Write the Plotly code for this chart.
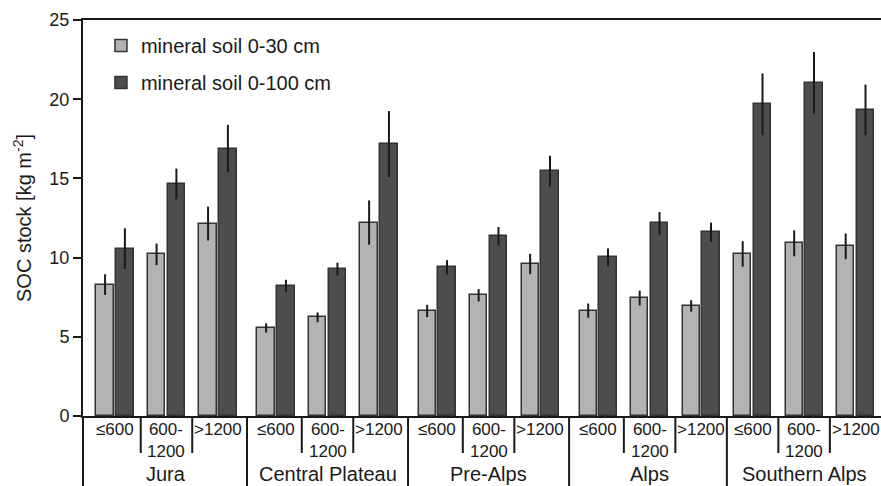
import plotly.graph_objects as go

# ---------------- data ----------------
regions = ["Jura", "Central Plateau", "Pre-Alps", "Alps", "Southern Alps"]
elevations = ["≤600", "600-<br>1200", ">1200"]
series_names = ["mineral soil 0-30 cm", "mineral soil 0-100 cm"]

soc_0_30 = [8.30, 10.21, 12.15, 5.56, 6.23, 12.21, 6.63, 7.62, 9.60, 6.65, 7.45, 6.95, 10.23, 10.90, 10.71]
err_0_30 = [0.65, 0.68, 1.07, 0.29, 0.31, 1.40, 0.39, 0.39, 0.64, 0.45, 0.47, 0.36, 0.81, 0.82, 0.81]
soc_0_100 = [10.57, 14.65, 16.88, 8.21, 9.28, 17.17, 9.39, 11.35, 15.45, 10.02, 12.17, 11.60, 19.68, 21.02, 19.32]
err_0_100 = [1.28, 0.97, 1.50, 0.39, 0.40, 2.08, 0.45, 0.58, 0.98, 0.56, 0.71, 0.61, 1.95, 1.96, 1.60]
y_ticks = [0, 5, 10, 15, 20, 25]

# ---------------- layout helpers ----------------
FONT = "Liberation Sans, Arial, sans-serif"
TXT = "#1a1a1a"
LINE = "#1a1a1a"
region_gap = [0.0, 0.127, 0.127, 0.127, 0.0]  # extra spacing before each region

n_el = len(elevations)
offsets = []
acc = 0.0
for r in range(len(regions)):
    acc += region_gap[r]
    offsets.append(acc)
x_pos = [r * n_el + e + offsets[r] for r in range(len(regions)) for e in range(n_el)]
x_range = [-0.621, x_pos[-1] + 0.493]

H_PLOT = 396.0
def py(pixel_below_axis):
    return -pixel_below_axis / H_PLOT

fig = go.Figure()
fig.add_trace(go.Bar(
    x=x_pos, y=soc_0_30, name=series_names[0],
    width=0.335, offset=-0.36,
    marker=dict(color="#b3b3b3", line=dict(color="#333333", width=1.5)),
    error_y=dict(type="data", array=err_0_30, color="#1a1a1a", thickness=2, width=0),
    legendgroup="a",
))
fig.add_trace(go.Bar(
    x=x_pos, y=soc_0_100, name=series_names[1],
    width=0.335, offset=0.025,
    marker=dict(color="#4d4d4d", line=dict(color="#333333", width=1.5)),
    error_y=dict(type="data", array=err_0_100, color="#1a1a1a", thickness=2, width=0),
    legendgroup="b",
))

shapes = []
annotations = []
# left axis extension down through category rows
shapes.append(dict(type="line", xref="paper", yref="paper", x0=0, x1=0, y0=0, y1=py(75),
                   line=dict(color=LINE, width=2)))
for r in range(len(regions)):
    idx = [r * n_el + e for e in range(n_el)]
    # intra-region dividers
    for e in range(n_el - 1):
        xm = (x_pos[idx[e]] + x_pos[idx[e + 1]]) / 2
        shapes.append(dict(type="line", xref="x", yref="paper", x0=xm, x1=xm, y0=0, y1=py(37),
                           line=dict(color=LINE, width=2)))
    # region divider
    if r < len(regions) - 1:
        xm = (x_pos[idx[-1]] + x_pos[idx[-1] + 1]) / 2
        shapes.append(dict(type="line", xref="x", yref="paper", x0=xm, x1=xm, y0=0, y1=py(75),
                           line=dict(color=LINE, width=2)))
    # elevation labels
    for e in range(n_el):
        annotations.append(dict(x=x_pos[idx[e]], y=py(2), xref="x", yref="paper",
                                text=elevations[e], showarrow=False, xanchor="center", yanchor="top",
                                font=dict(family=FONT, size=17, color=TXT)))
    # region labels
    xc = sum(x_pos[i] for i in idx) / n_el
    annotations.append(dict(x=xc, y=py(58), xref="x", yref="paper", text=regions[r],
                            showarrow=False, xanchor="center", yanchor="middle",
                            font=dict(family=FONT, size=20, color=TXT)))

fig.update_layout(
    width=881, height=486,
    margin=dict(l=83, r=0, t=20, b=70),
    paper_bgcolor="white", plot_bgcolor="white",
    font=dict(family=FONT, color=TXT),
    bargap=0, barmode="overlay",
    showlegend=True,
    legend=dict(x=0.0225, y=0.985, xanchor="left", yanchor="top",
                font=dict(family=FONT, size=20, color=TXT),
                bgcolor="rgba(0,0,0,0)", tracegroupgap=8),
    shapes=shapes, annotations=annotations,
)
fig.update_xaxes(range=x_range, showticklabels=False, ticks="", showgrid=False, zeroline=False,
                 showline=True, linecolor=LINE, linewidth=2, mirror=True)
fig.update_yaxes(range=[0, 25], tickvals=y_ticks, ticks="outside", ticklen=8, tickwidth=2,
                 tickcolor=LINE, showgrid=False, zeroline=False, showline=True, linecolor=LINE,
                 linewidth=2, tickfont=dict(family=FONT, size=18, color=TXT),
                 title=dict(text="SOC stock [kg m<sup>-2</sup>]", standoff=12,
                            font=dict(family=FONT, size=20, color=TXT)))

fig.write_html("out.html", config={"displayModeBar": False},
               post_script="document.body.style.margin='0';document.body.style.overflow='hidden';")
